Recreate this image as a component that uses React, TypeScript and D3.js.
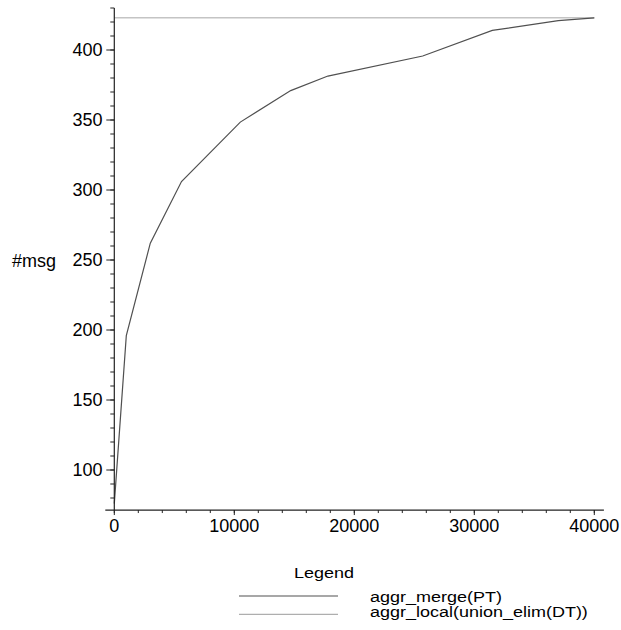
import React from "react";
import * as d3 from "d3";

const xValues = [0, 1000, 3000, 5600, 10500, 14700, 17800, 25700, 31500, 37000, 40000];
const mergeValues = [76, 196, 262, 306, 348.5, 371, 381.4, 395.7, 414, 421, 423];
const localValue = 423;
const xTicks = [0, 10000, 20000, 30000, 40000];
const yTicks = [100, 150, 200, 250, 300, 350, 400];
const seriesNames = ["aggr_merge(PT)", "aggr_local(union_elim(DT))"];
const yLabel = "#msg";
const legendTitle = "Legend";

const W = 621;
const H = 630;
const FONT = "'Liberation Sans', Arial, Helvetica, sans-serif";

export default function App() {
  const x = d3.scaleLinear().domain([0, 40000]).range([114.3, 594.3]);
  const y = d3.scaleLinear().domain([100, 400]).range([470, 50]);
  const xMin = -750, xMax = 40800, yMin = 71.4, yMax = 430;
  const xMinor = d3.range(0, 40001, 2000);
  const yMinor = d3.range(80, 431, 10);
  const pts = xValues.map((v, i) => [v, mergeValues[i]] as [number, number]);
  const line = d3.line<[number, number]>().x(d => x(d[0])).y(d => y(d[1]));
  const axisY = y(yMin);
  const axisX = x(0);
  return (
    <svg width={W} height={H} style={{ position: "absolute", left: 0, top: 0, background: "#fff" }} fontFamily={FONT}>
      <rect width={W} height={H} fill="#fff" />
      <line x1={x(0)} x2={x(40000)} y1={y(localValue)} y2={y(localValue)} stroke="#c4c4c4" strokeWidth={1.5} />
      <path d={line(pts) || ""} fill="none" stroke="#505050" strokeWidth={1.2} />
      <line x1={axisX} x2={axisX} y1={y(yMax)} y2={axisY} stroke="#222" strokeWidth={1.2} />
      {yMinor.map(v => (
        <line key={"ym" + v} x1={axisX - 4} x2={axisX} y1={y(v)} y2={y(v)} stroke="#222" strokeWidth={1} />
      ))}
      {yTicks.map(v => (
        <g key={"yt" + v}>
          <line x1={axisX - 8} x2={axisX} y1={y(v)} y2={y(v)} stroke="#222" strokeWidth={1} />
          <text x={102.5} y={y(v)} dy="0.36em" textAnchor="end" fontSize={18} fill="#000">{v}</text>
        </g>
      ))}
      <line x1={x(xMin)} x2={x(xMax)} y1={axisY} y2={axisY} stroke="#222" strokeWidth={1.2} />
      {xMinor.map(v => (
        <line key={"xm" + v} x1={x(v)} x2={x(v)} y1={axisY} y2={axisY + 3} stroke="#222" strokeWidth={1} />
      ))}
      {xTicks.map(v => (
        <g key={"xt" + v}>
          <line x1={x(v)} x2={x(v)} y1={axisY} y2={axisY + 5} stroke="#222" strokeWidth={1} />
          <text x={x(v)} y={532} textAnchor="middle" fontSize={18} fill="#000">{v}</text>
        </g>
      ))}
      <text x={12} y={266.5} fontSize={18} fill="#000">{yLabel}</text>
      <text transform="translate(294,578) scale(1,0.8)" fontSize={18} fill="#000">{legendTitle}</text>
      <line x1={239} x2={338} y1={596} y2={596} stroke="#8a8a8a" strokeWidth={1.6} />
      <line x1={239} x2={338} y1={614.3} y2={614.3} stroke="#9a9a9a" strokeWidth={1} />
      <text transform="translate(370,601.7) scale(1,0.78)" fontSize={18} fill="#000">{seriesNames[0]}</text>
      <text transform="translate(370,616.7) scale(1,0.78)" fontSize={18} fill="#000">{seriesNames[1]}</text>
    </svg>
  );
}
